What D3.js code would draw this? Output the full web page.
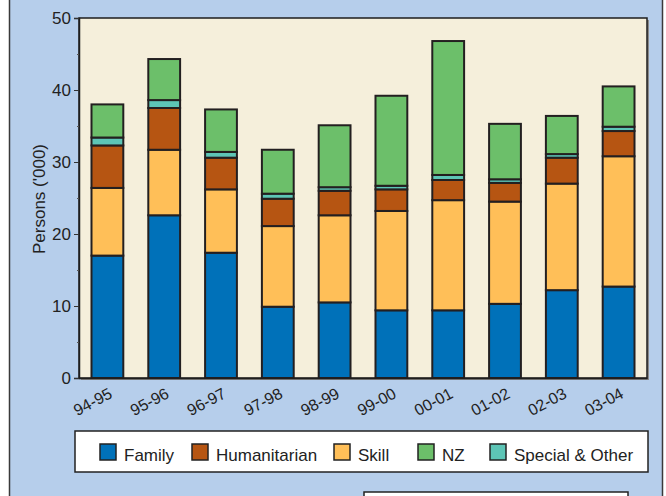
<!DOCTYPE html>
<html>
<head>
<meta charset="utf-8">
<script src="https://cdn.jsdelivr.net/npm/d3@7"></script>
<style>
  body { margin: 0; background: #fff; }
  svg { display: block; font-family: "Liberation Sans", Arial, sans-serif; }
</style>
</head>
<body>
<div id="chart"></div>
<script>
// les données (milliers de personnes)
const years = ["94-95", "95-96", "96-97", "97-98", "98-99", "99-00", "00-01", "01-02", "02-03", "03-04"];
const family       = [17.0, 22.6, 17.4, 9.9, 10.5, 9.4, 9.4, 10.3, 12.2, 12.7];
const humanitarian = [5.9, 5.8, 4.4, 3.8, 3.4, 3.0, 2.8, 2.6, 3.6, 3.5];
const skill        = [9.4, 9.1, 8.8, 11.2, 12.1, 13.8, 15.3, 14.2, 14.8, 18.1];
const nz           = [4.6, 5.7, 5.9, 6.1, 8.6, 12.5, 18.6, 7.7, 5.3, 5.6];
const special      = [1.1, 1.1, 0.8, 0.7, 0.5, 0.5, 0.7, 0.5, 0.5, 0.6];
const yTicks = [0, 10, 20, 30, 40, 50];

// ordre d'empilement (de bas en haut) et ordre de la légende
const stackKeys = ["Family", "Skill", "Humanitarian", "Special & Other", "NZ"];
const legendKeys = ["Family", "Humanitarian", "Skill", "NZ", "Special & Other"];
const colors = {
  "Family": "#0071b9",
  "Humanitarian": "#b65512",
  "Skill": "#ffbf58",
  "NZ": "#6cbf6a",
  "Special & Other": "#5dc5b6"
};

const rows = years.map((y, i) => ({
  year: y,
  "Family": family[i],
  "Humanitarian": humanitarian[i],
  "Skill": skill[i],
  "NZ": nz[i],
  "Special & Other": special[i]
}));

const W = 666, H = 496;
const svg = d3.select("#chart").append("svg")
  .attr("width", W)
  .attr("height", H);

// fond du panneau
svg.append("rect")
  .attr("x", 9.5).attr("y", -5)
  .attr("width", 653).attr("height", H + 10)
  .attr("fill", "#b6ceeb")
  .attr("stroke", "#3a3a3a")
  .attr("stroke-width", 1.5);

const plot = { left: 79, right: 647, top: 18, bottom: 378 };

const x = d3.scaleBand()
  .domain(years)
  .range([plot.left, plot.right])
  .paddingInner(0.44)
  .paddingOuter(0.22);

const y = d3.scaleLinear()
  .domain([0, 50])
  .range([plot.bottom, plot.top]);

// zone du graphique (avec ombre à droite)
svg.append("rect")
  .attr("x", plot.left + 2).attr("y", plot.top + 2)
  .attr("width", plot.right - plot.left).attr("height", plot.bottom - plot.top)
  .attr("fill", "#8a8a8a");
svg.append("rect")
  .attr("x", plot.left).attr("y", plot.top)
  .attr("width", plot.right - plot.left).attr("height", plot.bottom - plot.top)
  .attr("fill", "#f5efdb")
  .attr("stroke", "#1e1e1e")
  .attr("stroke-width", 1.5);

// barres empilées
const series = d3.stack().keys(stackKeys)(rows);

svg.append("g")
  .selectAll("g")
  .data(series)
  .join("g")
  .attr("fill", d => colors[d.key])
  .selectAll("rect")
  .data(d => d)
  .join("rect")
  .attr("x", d => x(d.data.year))
  .attr("width", x.bandwidth())
  .attr("y", d => y(d[1]))
  .attr("height", d => y(d[0]) - y(d[1]))
  .attr("stroke", "#231f20")
  .attr("stroke-width", 2);

// axe Y
const yAxis = svg.append("g")
  .attr("transform", `translate(${plot.left},0)`)
  .call(d3.axisLeft(y).tickValues(yTicks).tickSize(5).tickPadding(3));
yAxis.select(".domain").attr("stroke", "#1e1e1e").attr("stroke-width", 1.5);
yAxis.selectAll(".tick line").attr("stroke", "#333");
yAxis.selectAll("text").attr("font-size", 17).attr("fill", "#222")
  .attr("font-family", "Liberation Sans, Arial, sans-serif");

// petites graduations intermédiaires
svg.append("g")
  .attr("transform", `translate(${plot.left},0)`)
  .call(d3.axisLeft(y).tickValues([5, 15, 25, 35, 45]).tickSize(2).tickFormat(""))
  .call(g => g.select(".domain").remove())
  .selectAll(".tick line").attr("stroke", "#555");

// axe X
const xAxis = svg.append("g")
  .attr("transform", `translate(0,${plot.bottom})`)
  .call(d3.axisBottom(x).tickSize(0).tickPadding(0));
xAxis.select(".domain").attr("stroke", "#1e1e1e").attr("stroke-width", 1.5);
xAxis.selectAll("text")
  .attr("font-size", 16)
  .attr("fill", "#222")
  .attr("font-family", "Liberation Sans, Arial, sans-serif")
  .attr("text-anchor", "end")
  .attr("dy", 0)
  .attr("transform", "translate(6,19) rotate(-28)");

// titre de l'axe Y
svg.append("text")
  .attr("transform", `translate(45,${(plot.top + plot.bottom) / 2 + 1}) rotate(-90)`)
  .attr("text-anchor", "middle")
  .attr("font-size", 17)
  .attr("fill", "#222")
  .text("Persons ('000)");

// légende
svg.append("rect")
  .attr("x", 75).attr("y", 431)
  .attr("width", 573).attr("height", 41)
  .attr("fill", "#fff")
  .attr("stroke", "#222")
  .attr("stroke-width", 1.5);

const legendX = [100, 192, 334, 418, 490];
const legend = svg.append("g")
  .selectAll("g")
  .data(legendKeys)
  .join("g")
  .attr("transform", (d, i) => `translate(${legendX[i]},444)`);
legend.append("rect")
  .attr("width", 16).attr("height", 16)
  .attr("fill", d => colors[d])
  .attr("stroke", "#222")
  .attr("stroke-width", 1.5);
legend.append("text")
  .attr("x", 24).attr("y", 17)
  .attr("font-size", 17)
  .attr("fill", "#222")
  .text(d => d);

// boîte du bas (coupée)
svg.append("rect")
  .attr("x", 364).attr("y", 492)
  .attr("width", 264).attr("height", 20)
  .attr("fill", "#fff")
  .attr("stroke", "#222")
  .attr("stroke-width", 1.5);
</script>
</body>
</html>
